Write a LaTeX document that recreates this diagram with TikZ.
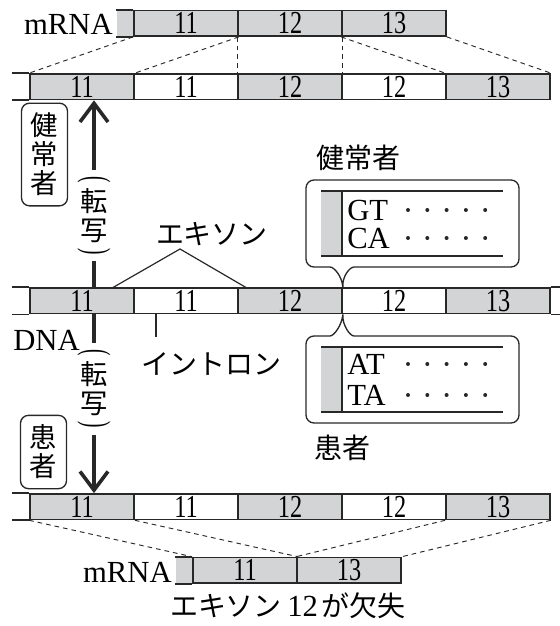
\documentclass[tikz,border=0pt]{standalone}
\usepackage{fontspec}
\setmainfont{Liberation Serif}
\newfontfamily\jp{Noto Sans CJK JP}
\usetikzlibrary{arrows.meta}
\definecolor{segfill}{RGB}{211,212,214}
\definecolor{ink}{RGB}{40,40,40}
\newcommand\sx[1]{\scalebox{0.76}[1]{#1}}
\newcommand\numfont{\fontsize{24}{24}\selectfont}
\begin{document}
\begin{tikzpicture}[x=0.75pt,y=-0.75pt,
  seg/.style={draw=ink, line width=1.3pt, fill=segfill, minimum width=78pt,
    minimum height=19.1pt, inner sep=0pt, font=\numfont},
  wseg/.style={seg, fill=white},
  barline/.style={draw=ink, line width=1.3pt},
  dashline/.style={draw=ink, line width=0.7pt, dash pattern=on 3.5pt off 3pt},
  thinline/.style={draw=ink, line width=0.9pt},
  boxline/.style={draw=ink, line width=1pt},
  arrowline/.style={draw=ink, line width=2.7pt},
  tip/.style={-{Straight Barb[length=14pt,width=21pt]}},
  latin/.style={inner sep=0pt, font=\fontsize{23}{23}\selectfont},
  jptext/.style={inner sep=0pt, font=\jp\fontsize{21}{21}\selectfont},
  vbox/.style={draw=ink, line width=1pt, rounded corners=6pt, minimum width=34.5pt,
    inner sep=0pt, align=center, font=\jp\fontsize{20.5}{21.75}\selectfont},
  vtext/.style={inner sep=0pt, align=center, font=\jp\fontsize{20.5}{21.75}\selectfont},
  paren/.style={inner sep=0pt, rotate=-90, font=\fontsize{24}{24}\selectfont},
  dotmark/.style={fill=ink}]
\useasboundingbox (0,0) rectangle (560,626);

% ---------- top mRNA ----------
\fill[segfill] (117,10.57) rectangle (134,36.03);
\node[seg] (m1-1) at (186,23.3) {\sx{11}};
\node[seg] (m1-2) at (290,23.3) {\sx{12}};
\node[seg] (m1-3) at (394,23.3) {\sx{13}};
\draw[barline] (m1-1.north west) -- ++(-17,0) (m1-1.south west) -- ++(-17,0);
\node[latin, anchor=base east] (mrna1) at (113,34) {mRNA};

% ---------- gene bars ----------
\foreach \r/\yy in {b2/86.7, b3/300.8, b5/506.7} {
  \node[seg]  (\r-1) at (82,\yy) {\sx{11}};
  \node[wseg] (\r-2) at (186,\yy) {\sx{11}};
  \node[seg]  (\r-3) at (290,\yy) {\sx{12}};
  \node[wseg] (\r-4) at (394,\yy) {\sx{12}};
  \node[seg]  (\r-5) at (498,\yy) {\sx{13}};
  \draw[barline] (\r-1.north west) -- ++(-17,0) (\r-1.south west) -- ++(-17,0);
}
\draw[barline] (b3-5.north east) -- ++(10,0) (b3-5.south east) -- ++(10,0);

% ---------- bottom mRNA ----------
\fill[segfill] (176,557.57) rectangle (193,583.03);
\node[seg] (m2-1) at (245,570.3) {\sx{11}};
\node[seg] (m2-2) at (349,570.3) {\sx{13}};
\draw[barline] (m2-1.north west) -- ++(-17,0) (m2-1.south west) -- ++(-17,0);
\node[latin, anchor=base east] (mrna2) at (172,582) {mRNA};
\node[inner sep=0pt, font=\fontsize{23}{23}\selectfont] (caption) at (288,606)
  {{\jp\fontsize{21}{21}\selectfont エキソン}\hspace{4pt}12\hspace{3pt}{\jp\fontsize{21}{21}\selectfont が欠失}};

% ---------- dashed splicing lines ----------
\draw[dashline] (m1-1.south west) -- (b2-1.north west);
\draw[dashline] (m1-1.south east) -- (b2-1.north east);
\draw[dashline] (m1-2.south west) -- (b2-3.north west);
\draw[dashline] (m1-2.south east) -- (b2-3.north east);
\draw[dashline] (m1-3.south west) -- (b2-5.north west);
\draw[dashline] (m1-3.south east) -- (b2-5.north east);
\draw[dashline] (b5-1.south west) -- (m2-1.north west);
\draw[dashline] (b5-1.south east) -- (m2-1.north east);
\draw[dashline] (b5-5.south west) -- (m2-2.north west);
\draw[dashline] (b5-5.south east) -- (m2-2.north east);

% ---------- transcription arrows ----------
\coordinate (ax) at (94,0);
\coordinate (upGapLo) at (94,261);
\coordinate (upGapHi) at (94,170);
\coordinate (loGapHi) at (94,343);
\coordinate (loGapLo) at (94,435);
\draw[arrowline] (b3-1.north -| ax) -- (upGapLo);
\draw[arrowline, tip] (upGapHi) -- (b2-1.south -| ax);
\draw[arrowline] (b3-1.south -| ax) -- (loGapHi);
\draw[arrowline, tip] (loGapLo) -- (b5-1.north -| ax);
\node[paren] (pu1) at (94,180) {\scalebox{0.6}[1.15]{(}};
\node[vtext] (tenU) at (94,216) {転\\写};
\node[paren] (pu2) at (94,252) {\scalebox{0.6}[1.15]{)}};
\node[paren] (pl1) at (94,353) {\scalebox{0.6}[1.15]{(}};
\node[vtext] (tenL) at (94,389) {転\\写};
\node[paren] (pl2) at (94,425) {\scalebox{0.6}[1.15]{)}};

% ---------- left boxed labels ----------
\node[vbox, minimum height=77pt] (hbox) at (44.5,154.5) {健\\常\\者};
\node[vbox, minimum height=55pt] (pbox) at (43.5,452) {患\\者};

% ---------- labels on DNA ----------
\node[latin, anchor=base west] (dna) at (13,350) {DNA};
\node[jptext] (exon) at (212,234) {エキソン};
\coordinate (exApex) at (180,249);
\coordinate (ex1) at (112,288.07);
\coordinate (ex2) at (247,288.07);
\draw[thinline] (ex1) -- (exApex) -- (ex2);
\node[jptext] (intron) at (212,364) {イントロン};
\coordinate (intTop) at (156,313.53);
\coordinate (intBot) at (156,337);
\draw[thinline] (intTop) -- (intBot);

% ---------- sequence callouts ----------
\coordinate (jTop) at (b3-3.north east);
\coordinate (jBot) at (b3-3.south east);
\draw[boxline, rounded corners=6pt] (jTop) .. controls (342,276) and (334,267) .. (322,267)
  -- (306,267) -- (306,180) -- (519,180) -- (519,267) -- (362,267)
  .. controls (350,267) and (342,276) .. (jTop);
\draw[boxline, rounded corners=6pt] (jBot) .. controls (342,325) and (334,336) .. (322,336)
  -- (306,336) -- (306,423) -- (519,423) -- (519,336) -- (362,336)
  .. controls (350,336) and (342,325) .. (jBot);

\fill[segfill] (321,191) rectangle (342,256);
\draw[barline, line width=1.1pt] (321,191) -- (503,191) (321,256) -- (503,256) (342,191) -- (342,256);
\fill[segfill] (321,347) rectangle (342,412);
\draw[barline, line width=1.1pt] (321,347) -- (503,347) (321,412) -- (503,412) (342,347) -- (342,412);

\node[latin, anchor=west] (gt) at (347,210) {GT};
\node[latin, anchor=west] (ca) at (347,238) {CA};
\node[latin, anchor=west] (at) at (347,364) {AT};
\node[latin, anchor=west] (ta) at (347,395) {TA};
\foreach \yy in {210,238,364,395}
  \foreach \k in {0,...,4}
    \fill[dotmark] (408+19.3*\k,\yy) circle (1.5pt);

\node[jptext] (healthy) at (358,158) {健常者};
\node[jptext] (patient) at (342,448) {患者};
\end{tikzpicture}
\end{document}
